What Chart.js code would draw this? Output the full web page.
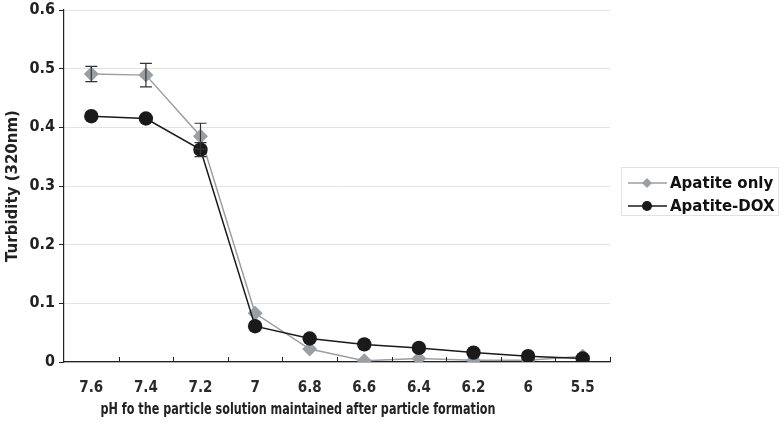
<!DOCTYPE html>
<html>
<head>
<meta charset="utf-8">
<script src="https://cdn.jsdelivr.net/npm/chart.js@4"></script>
<style>
  html, body { margin: 0; padding: 0; background: #fff; }
  #wrap { width: 784px; height: 423px; }
</style>
</head>
<body>
<div id="wrap"><canvas id="myChart"></canvas></div>
<script>
const phLabels = ['7.6', '7.4', '7.2', '7', '6.8', '6.6', '6.4', '6.2', '6', '5.5'];
const apatiteOnly = [0.491, 0.489, 0.385, 0.083, 0.022, 0.002, 0.006, 0.003, 0.003, 0.010];
const apatiteOnlyErr = [0.013, 0.020, 0.022, 0, 0, 0, 0, 0, 0, 0];
const apatiteDox = [0.419, 0.415, 0.362, 0.061, 0.040, 0.030, 0.024, 0.016, 0.010, 0.006];
const apatiteDoxErr = [0, 0, 0.012, 0, 0, 0, 0, 0, 0, 0];
const yTicks = [0, 0.1, 0.2, 0.3, 0.4, 0.5, 0.6];
const xTitle = 'pH fo the particle solution maintained after particle formation';

const grey = '#9a9fa4';
const dark = '#1a1a1a';
const condensed = '"DejaVu Sans Condensed", "DejaVu Sans"';

// error bars
const errorBars = {
    id: 'errorBars',
    afterDatasetsDraw(chart) {
        const c = chart.ctx;
        const y = chart.scales.y;
        const errs = [apatiteOnlyErr, apatiteDoxErr];
        c.save();
        c.strokeStyle = '#333';
        c.lineWidth = 1.2;
        chart.data.datasets.forEach((ds, i) => {
            const meta = chart.getDatasetMeta(i);
            meta.data.forEach((pt, j) => {
                const e = errs[i][j];
                if (!e) return;
                const top = y.getPixelForValue(ds.data[j] + e);
                const bot = y.getPixelForValue(ds.data[j] - e);
                c.beginPath();
                c.moveTo(pt.x, top); c.lineTo(pt.x, bot);
                c.moveTo(pt.x - 6, top); c.lineTo(pt.x + 6, top);
                c.moveTo(pt.x - 6, bot); c.lineTo(pt.x + 6, bot);
                c.stroke();
            });
        });
        c.restore();
    }
};

// inner ticks on x axis, x title, legend box
const extras = {
    id: 'extras',
    afterDraw(chart) {
        const c = chart.ctx;
        const x = chart.scales.x;
        const area = chart.chartArea;
        const step = x.getPixelForValue(1) - x.getPixelForValue(0);
        c.save();
        c.strokeStyle = '#222';
        c.lineWidth = 1;
        for (let i = 1; i <= phLabels.length; i++) {
            const px = Math.round(x.getPixelForValue(i) - step / 2) + 0.5;
            c.beginPath();
            c.moveTo(px, area.bottom);
            c.lineTo(px, area.bottom - 5);
            c.stroke();
        }

        // x axis title
        c.font = 'bold 15px ' + condensed;
        c.fillStyle = '#222';
        c.textBaseline = 'middle';
        c.textAlign = 'center';
        const w = c.measureText(xTitle).width;
        const sx = Math.min(1, 395 / w);
        c.save();
        c.translate(298, 410);
        c.scale(sx, 1);
        c.fillText(xTitle, 0, 0);
        c.restore();

        // legend
        c.textAlign = 'left';
        const bx = 621, by = 167, bw = 157, bh = 48;
        c.strokeStyle = '#e2e2e2';
        c.lineWidth = 1;
        c.strokeRect(bx + 0.5, by + 0.5, bw, bh);
        c.font = 'bold 15px "DejaVu Sans"';
        chart.data.datasets.forEach((ds, i) => {
            const ry = by + 16 + i * 23;
            c.strokeStyle = ds.borderColor;
            c.lineWidth = 1.5;
            c.beginPath();
            c.moveTo(bx + 7, ry); c.lineTo(bx + 46, ry);
            c.stroke();
            c.fillStyle = ds.pointBackgroundColor;
            c.beginPath();
            if (i === 0) {
                c.moveTo(bx + 26, ry - 5); c.lineTo(bx + 31, ry);
                c.lineTo(bx + 26, ry + 5); c.lineTo(bx + 21, ry);
                c.closePath();
            } else {
                c.arc(bx + 26, ry, 5, 0, Math.PI * 2);
            }
            c.fill();
            c.fillStyle = '#111';
            c.fillText(ds.label, bx + 49, ry + 1);
        });
        c.restore();
    }
};

new Chart(document.getElementById('myChart'), {
    type: 'line',
    data: {
        labels: phLabels,
        datasets: [{
            label: 'Apatite only',
            data: apatiteOnly,
            borderColor: grey,
            backgroundColor: grey,
            pointBackgroundColor: grey,
            pointBorderColor: grey,
            pointStyle: 'rectRot',
            pointRadius: 7.5,
            pointBorderWidth: 0,
            borderWidth: 1.5,
            order: 1
        }, {
            label: 'Apatite-DOX',
            data: apatiteDox,
            borderColor: dark,
            backgroundColor: dark,
            pointBackgroundColor: dark,
            pointBorderColor: dark,
            pointStyle: 'circle',
            pointRadius: 7.2,
            pointBorderWidth: 0,
            borderWidth: 1.5,
            order: 0
        }]
    },
    options: {
        responsive: true,
        maintainAspectRatio: false,
        animation: false,
        layout: { padding: { top: 10, right: 174, left: 4, bottom: 0 } },
        plugins: {
            legend: { display: false },
            tooltip: { enabled: false }
        },
        scales: {
            x: {
                offset: true,
                grid: { display: false },
                border: { color: '#222', width: 1.2 },
                afterFit(axis) { axis.height = 61; },
                ticks: {
                    color: '#2a2a2a',
                    padding: 9,
                    maxRotation: 0,
                    font: { family: condensed, weight: 'bold', size: 15 }
                }
            },
            y: {
                min: 0,
                max: 0.6,
                afterBuildTicks(axis) { axis.ticks = yTicks.map(v => ({ value: v })); },
                afterFit(axis) { axis.width = 60; axis.paddingTop = 0; axis.paddingBottom = 0; },
                grid: {
                    color: '#e3e3e3',
                    tickColor: '#222',
                    tickLength: 5
                },
                border: { color: '#222', width: 1.2 },
                ticks: {
                    color: '#222',
                    padding: 4,
                    font: { family: condensed, weight: 'bold', size: 16, lineHeight: 1 },
                    callback: v => (v === 0 ? '0' : v.toFixed(1))
                },
                title: {
                    display: true,
                    text: 'Turbidity (320nm)',
                    color: '#222',
                    padding: { top: 0, bottom: 0 },
                    font: { family: '"DejaVu Sans"', weight: 'bold', size: 15 }
                }
            }
        }
    },
    plugins: [errorBars, extras]
});
</script>
</body>
</html>
